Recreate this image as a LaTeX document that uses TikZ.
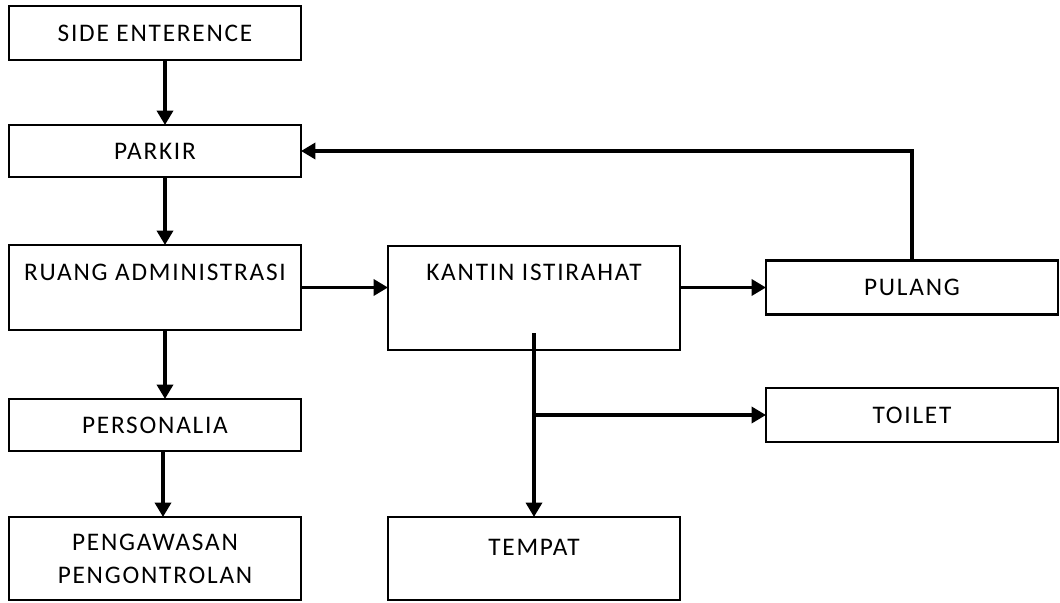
\documentclass[tikz,border=0pt]{standalone}
\usepackage{fontspec}
\setmainfont[LetterSpace=7]{Carlito}
\usetikzlibrary{positioning,arrows.meta}

\begin{document}
\begin{tikzpicture}[x=0.25mm,y=-0.25mm,
    boxnode/.style={rectangle, draw=black, line width=1.6pt, minimum width=73mm, inner sep=0pt, outer sep=0pt, align=center, font=\fontsize{18}{23.5}\selectfont},
    arrowline/.style={line width=2.4pt, -{Triangle[length=3.6mm,width=4mm]}},]
    \useasboundingbox (0,0) rectangle (1060,603);
    % nodes
    \node[boxnode, minimum height=13.5mm]  (side)   at (155,33)                        {SIDE ENTERENCE};
    \node[boxnode, minimum height=13mm]    (parkir) [below=16.25mm of side]            {PARKIR};
    \node[boxnode, text height=8.75mm, text depth=12.5mm] (ruang) [below=17mm of parkir] {RUANG ADMINISTRASI};
    \node[boxnode, minimum height=13mm]    (personalia) [below=17.25mm of ruang]       {PERSONALIA};
    \node[boxnode, minimum height=20.75mm] (pengawasan) [below=16.5mm of personalia]   {PENGAWASAN\\PENGONTROLAN};
    \node[boxnode, text height=8.5mm, text depth=17.5mm] (kantin) [below right=0.25mm and 21.75mm of ruang.north east, anchor=north west] {KANTIN ISTIRAHAT};
    \node[boxnode, minimum height=13.5mm]  (pulang) at (912,287.5)                     {PULANG};
    \node[boxnode, minimum height=13.5mm]  (toilet) at (912,415)                       {TOILET};
    \node[boxnode, text height=9.5mm, text depth=11.25mm] (tempat) [below=41.75mm of kantin] {TEMPAT};
    % lines
    \draw[arrowline] ([xshift=2.5mm]side.south) -- ([xshift=2.5mm]parkir.north);
    \draw[arrowline] ([xshift=2.5mm]parkir.south) -- ([xshift=2.5mm]ruang.north);
    \draw[arrowline] ([xshift=2.5mm]ruang.south) -- ([xshift=2.5mm]personalia.north);
    \draw[arrowline] ([xshift=2mm]personalia.south) -- ([xshift=2mm]pengawasan.north);
    \draw[arrowline] (ruang.east) -- (ruang.east -| kantin.west);
    \draw[arrowline] (pulang.west -| kantin.east) -- (pulang.west);
    \draw[arrowline] (pulang.north) |- (parkir.east);
    \draw[arrowline] ([yshift=4.25mm]kantin.south) -- (tempat.north);
    \draw[arrowline] (toilet.west -| kantin.south) -- (toilet.west);
\end{tikzpicture}
\end{document}
